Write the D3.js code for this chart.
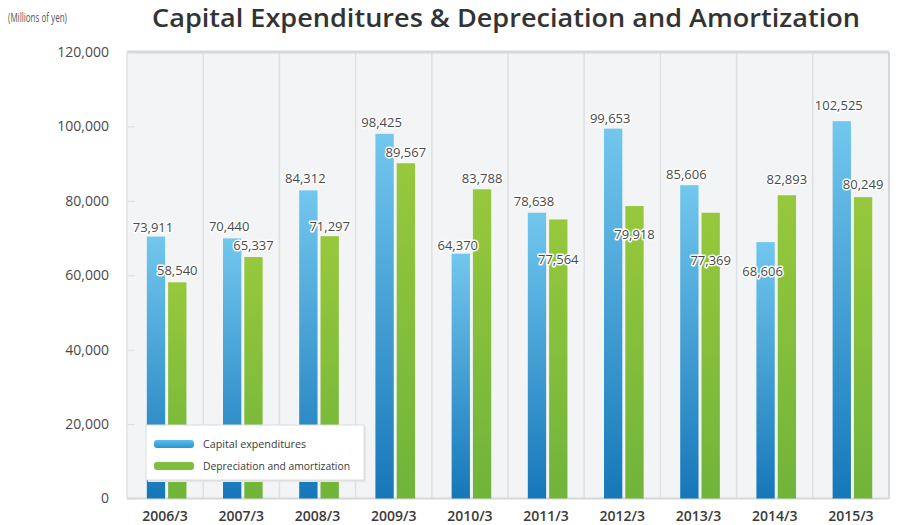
<!DOCTYPE html>
<html>
<head>
  <script src="https://d3js.org/d3.v7.min.js"></script>
  <meta charset='utf-8'>
  <title>Capital Expenditures</title>
  <style>
    body { margin: 0; background: #fff; }
    text { font-family: "Open Sans", "DejaVu Sans", sans-serif; }
  </style>
</head>
<body>
  <div id="container"></div>

  <script>
  const years = ["2006/3","2007/3","2008/3","2009/3","2010/3","2011/3","2012/3","2013/3","2014/3","2015/3"]
  // printed values
  const capexLabels = [73911, 70440, 84312, 98425, 64370, 78638, 99653, 85606, 68606, 102525]
  const depLabels = [58540, 65337, 71297, 89567, 83788, 77564, 79918, 77369, 82893, 80249]
  // bar heights as drawn in the picture
  const capexBars = [70400, 69900, 82800, 98000, 65800, 76800, 99400, 84200, 68900, 101400]
  const depBars = [58100, 64900, 70500, 90100, 83100, 75000, 78600, 76800, 81500, 81000]
  // vertical nudge of each value label, px from bar top
  const capexDy = [-5, -7, -7, -7, -4, -7, -6, -6, 34, -11]
  const depDy = [-7, -7, -5, -6, -6, 45, 33, 52, -11, -8]
  const yTicks = [0, 20000, 40000, 60000, 80000, 100000, 120000]

  const width = 924, height = 525
  const margin = {top: 52, bottom: 26, left: 127, right: 35}

  const svg = d3.select("#container").append("svg")
    .attr("width", width)
    .attr("height", height)

  const defs = svg.append("defs")
  const gBlue = defs.append("linearGradient").attr("id", "gBlue")
    .attr("x1", 0).attr("y1", 0).attr("x2", 0).attr("y2", 1)
  gBlue.append("stop").attr("offset", "0%").attr("stop-color", "#72c7ed")
  gBlue.append("stop").attr("offset", "100%").attr("stop-color", "#1677b9")
  const gGreen = defs.append("linearGradient").attr("id", "gGreen")
    .attr("x1", 0).attr("y1", 0).attr("x2", 0).attr("y2", 1)
  gGreen.append("stop").attr("offset", "0%").attr("stop-color", "#97c83c")
  gGreen.append("stop").attr("offset", "100%").attr("stop-color", "#70b43a")
  const lBlue = defs.append("linearGradient").attr("id", "lBlue")
    .attr("x1", 0).attr("y1", 0).attr("x2", 0).attr("y2", 1)
  lBlue.append("stop").attr("offset", "0%").attr("stop-color", "#5cc0ec")
  lBlue.append("stop").attr("offset", "100%").attr("stop-color", "#2a93cf")

  const x = d3.scaleBand().domain(years).range([margin.left, width - margin.right])
  const bw = x.bandwidth()
  const sub = d3.scaleBand().domain(["capex", "dep"]).range([bw * 0.26, bw * 0.78]).paddingInner(0.14)
  const y = d3.scaleLinear().domain([0, 120000]).range([height - margin.bottom - 0.5, margin.top])

  // plot background & column dividers
  svg.append("rect")
    .attr("x", margin.left).attr("y", y(120000))
    .attr("width", width - margin.right - margin.left)
    .attr("height", y(0) - y(120000))
    .attr("fill", "#f3f4f5")

  svg.selectAll(".div")
    .data(years.slice(1))
    .enter().append("line")
    .attr("x1", d => x(d)).attr("x2", d => x(d))
    .attr("y1", y(120000)).attr("y2", y(0))
    .attr("stroke", "#dfe0e1").attr("stroke-width", 1.5)

  // frame
  svg.append("line")
    .attr("x1", margin.left).attr("x2", width - margin.right)
    .attr("y1", y(120000)).attr("y2", y(120000))
    .attr("stroke", "#d6d7d8").attr("stroke-width", 3)
  svg.append("line")
    .attr("x1", width - margin.right).attr("x2", width - margin.right)
    .attr("y1", y(120000)).attr("y2", y(0))
    .attr("stroke", "#d6d7d8").attr("stroke-width", 2)
  svg.append("line")
    .attr("x1", margin.left).attr("x2", margin.left)
    .attr("y1", y(120000)).attr("y2", y(0))
    .attr("stroke", "#e2e3e4").attr("stroke-width", 1.5)
  svg.append("line")
    .attr("x1", margin.left).attr("x2", width - margin.right)
    .attr("y1", y(0)).attr("y2", y(0))
    .attr("stroke", "#d6d7d8").attr("stroke-width", 2)

  // y axis
  const yAxis = svg.append("g")
    .attr("transform", `translate(${margin.left},0)`)
    .call(d3.axisLeft(y).tickValues(yTicks).tickSize(-8).tickPadding(18)
      .tickFormat(d3.format(",")))
  yAxis.select(".domain").remove()
  yAxis.selectAll("line").attr("stroke", "#dcdcdc")
  yAxis.selectAll("text")
    .attr("font-size", 14).attr("fill", "#4a4a4a")
    .style("font-family", "'Open Sans', sans-serif")

  // bars
  svg.selectAll(".capex")
    .data(years)
    .enter().append("rect")
    .attr("x", d => x(d) + sub("capex"))
    .attr("width", sub.bandwidth())
    .attr("y", (d, i) => y(capexBars[i]))
    .attr("height", (d, i) => y(0) - y(capexBars[i]))
    .attr("fill", "url(#gBlue)")

  svg.selectAll(".dep")
    .data(years)
    .enter().append("rect")
    .attr("x", d => x(d) + sub("dep"))
    .attr("width", sub.bandwidth())
    .attr("y", (d, i) => y(depBars[i]))
    .attr("height", (d, i) => y(0) - y(depBars[i]))
    .attr("fill", "url(#gGreen)")

  // value labels
  const fmt = d3.format(",")
  function addLabels(labels, bars, dy, key, dx) {
    svg.selectAll(".lbl-" + key)
      .data(years)
      .enter().append("text")
      .attr("x", d => x(d) + sub(key) + sub.bandwidth() / 2 + dx)
      .attr("y", (d, i) => y(bars[i]) + dy[i])
      .attr("text-anchor", "middle")
      .attr("font-size", 13)
      .attr("fill", "#4a4a4a")
      .attr("stroke", "#fff")
      .attr("stroke-width", 3)
      .attr("stroke-linejoin", "round")
      .attr("paint-order", "stroke")
      .text((d, i) => fmt(labels[i]))
  }
  addLabels(capexLabels, capexBars, capexDy, "capex", -3)
  addLabels(depLabels, depBars, depDy, "dep", 0)

  // x labels
  svg.selectAll(".xl")
    .data(years)
    .enter().append("text")
    .attr("x", d => x(d) + bw / 2)
    .attr("y", height - 4)
    .attr("text-anchor", "middle")
    .attr("font-size", 14)
    .attr("font-weight", 600)
    .attr("fill", "#3a3a3a")
    .text(d => d)

  // legend
  const lg = svg.append("g").attr("transform", "translate(146,425)")
  lg.append("rect")
    .attr("x", 2).attr("y", 2).attr("width", 218).attr("height", 55)
    .attr("fill", "#e4e5e6")
  lg.append("rect")
    .attr("width", 218).attr("height", 55)
    .attr("fill", "#fff").attr("stroke", "#dcdcdc")
  const legend = [
    {name: "Capital expenditures", fill: "url(#lBlue)"},
    {name: "Depreciation and amortization", fill: "#7fbd3d"}
  ]
  const li = lg.selectAll(".li")
    .data(legend)
    .enter().append("g")
    .attr("transform", (d, i) => `translate(8,${15 + i * 22})`)
  li.append("rect")
    .attr("width", 40).attr("height", 8).attr("rx", 3)
    .attr("fill", d => d.fill)
  li.append("text")
    .attr("x", 49).attr("y", 8)
    .attr("font-size", 10.5)
    .attr("fill", "#3a3a3a")
    .attr("textLength", (d, i) => i ? 147 : 103)
    .attr("lengthAdjust", "spacingAndGlyphs")
    .text(d => d.name)

  // titles
  svg.append("text")
    .attr("x", 152).attr("y", 27)
    .attr("font-size", 25)
    .attr("font-weight", 600)
    .attr("fill", "#333")
    .attr("textLength", 708)
    .attr("lengthAdjust", "spacingAndGlyphs")
    .text("Capital Expenditures & Depreciation and Amortization")

  svg.append("text")
    .attr("x", 8).attr("y", 22)
    .attr("font-size", 13.5)
    .attr("fill", "#555")
    .attr("textLength", 59)
    .attr("lengthAdjust", "spacingAndGlyphs")
    .text("(Millions of yen)")
  </script>
</body>
</html>
